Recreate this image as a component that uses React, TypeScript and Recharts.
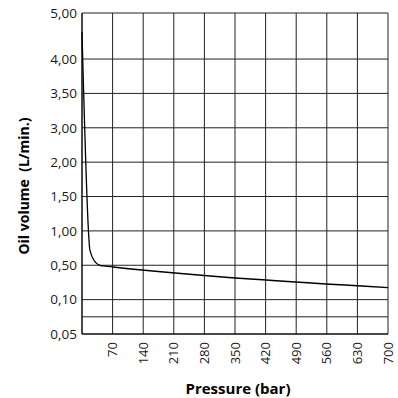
import { LineChart, Line, XAxis, YAxis, CartesianGrid, Label } from "recharts";

// pressure (bar) and oil volume (L/min.)
const pressure = [0, 16, 18, 30, 41, 53, 71, 700];
const oilVolume = [4.59, 0.87, 0.72, 0.55, 0.5, 0.49, 0.48, 0.24];

const xTicks = [0, 70, 140, 210, 280, 350, 420, 490, 560, 630, 700];

// the y axis is not linear: each labelled value sits on its own grid step
const yTickValues = [0.05, 0.1, 0.5, 1, 1.5, 2, 3, 3.5, 4, 5];
const yTickLabels = ["0,05", "0,10", "0,50", "1,00", "1,50", "2,00", "3,00", "3,50", "4,00", "5,00"];
const yTickSteps = [0, 1, 2, 3, 4, 5, 6, 7, 8, 9.34];
const extraGridStep = 0.5;

const FONT = "'Open Sans', sans-serif";

function toStep(v: number) {
  for (let i = 1; i < yTickValues.length; i++) {
    if (v <= yTickValues[i]) {
      const a = yTickValues[i - 1];
      const b = yTickValues[i];
      const t = (v - a) / (b - a);
      return yTickSteps[i - 1] + t * (yTickSteps[i] - yTickSteps[i - 1]);
    }
  }
  return yTickSteps[yTickSteps.length - 1];
}

const data = pressure.map((p, i) => ({ p, v: toStep(oilVolume[i]) }));

const yTicks = [yTickSteps[0], extraGridStep, ...yTickSteps.slice(1)];

function yLabel(step: number) {
  const i = yTickSteps.indexOf(step);
  return i < 0 ? "" : yTickLabels[i];
}

function XTick({ x, y, payload }: any) {
  if (payload.value === 0) return null;
  return (
    <text
      x={x}
      y={y}
      transform={`rotate(-90 ${x} ${y})`}
      textAnchor="end"
      dy="0.36em"
      fontSize={13}
      fontFamily={FONT}
      fill="#1a1a1a"
    >
      {payload.value}
    </text>
  );
}

export default function App() {
  return (
    <>
      <style>{"body { margin: 0; overflow: hidden; }"}</style>
      <LineChart
        width={398}
        height={398}
        data={data}
        margin={{ top: 13, right: 10, bottom: 0, left: 0 }}
      >
        <CartesianGrid stroke="#222" strokeWidth={1} />
        <XAxis
          dataKey="p"
          type="number"
          domain={[0, 700]}
          ticks={xTicks}
          interval={0}
          height={64}
          tickLine={false}
          tickSize={0}
          tickMargin={8}
          axisLine={{ stroke: "#000" }}
          tick={<XTick />}
        >
          <Label
            content={({ viewBox }: any) => (
              <text
                x={viewBox.x + viewBox.width / 2 + 3}
                y={394}
                textAnchor="middle"
                fontSize={15}
                fontWeight="bold"
                fontFamily={FONT}
                fill="#000"
              >
                Pressure (bar)
              </text>
            )}
          />
        </XAxis>
        <YAxis
          type="number"
          domain={[0, yTickSteps[yTickSteps.length - 1]]}
          ticks={yTicks}
          interval={0}
          width={82}
          tickLine={false}
          tickSize={0}
          tickMargin={5}
          axisLine={{ stroke: "#000" }}
          tickFormatter={yLabel}
          tick={{ fontSize: 13.5, fontFamily: FONT, fill: "#1a1a1a" }}
        >
          <Label
            content={() => (
              <text
                x={29}
                y={186}
                transform="rotate(-90 29 186)"
                textAnchor="middle"
                fontSize={14}
                fontWeight="bold"
                fontFamily={FONT}
                fill="#000"
                style={{ whiteSpace: "pre" }}
              >
                Oil volume  (L/min.)
              </text>
            )}
          />
        </YAxis>
        <Line
          type="monotone"
          dataKey="v"
          stroke="#000"
          strokeWidth={1.3}
          dot={false}
          isAnimationActive={false}
        />
      </LineChart>
    </>
  );
}
